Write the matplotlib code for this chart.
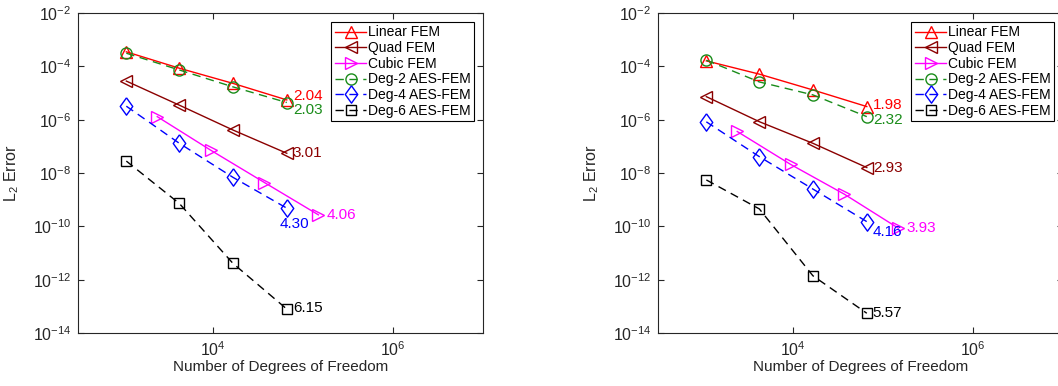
import matplotlib
matplotlib.use("Agg")
import matplotlib.pyplot as plt
import numpy as np

plt.rcParams['font.family'] = ['Liberation Sans', 'DejaVu Sans']
plt.rcParams['mathtext.fontset'] = 'custom'
plt.rcParams['mathtext.rm'] = 'Liberation Sans'

# Degrees of freedom for each refinement level
dofs_p = [1089, 4225, 16641, 66049]          # linear / quadratic / AES-FEM
dofs_cubic = [2401, 9409, 37249, 148225]     # cubic FEM

series_names = ["Linear FEM", "Quad FEM", "Cubic FEM",
                "Deg-2 AES-FEM", "Deg-4 AES-FEM", "Deg-6 AES-FEM"]

# Problem 1 errors
err1_linear = [3.5e-4, 8.5e-5, 2.3e-5, 5.5e-6]
err1_quad = [2.8e-5, 3.5e-6, 4.1e-7, 5.5e-8]
err1_cubic = [1.3e-6, 7.2e-8, 4.4e-9, 2.7e-10]
err1_aes2 = [3.1e-4, 7.3e-5, 1.7e-5, 4.4e-6]
err1_aes4 = [3.2e-6, 1.3e-7, 6.9e-9, 4.8e-10]
err1_aes6 = [2.8e-8, 7.2e-10, 4.1e-12, 7.9e-14]
rates1 = ["2.04", "3.01", "4.06", "2.03", "4.30", "6.15"]

# Problem 2 errors
err2_linear = [1.6e-4, 5.1e-5, 1.3e-5, 3.1e-6]
err2_quad = [7.3e-6, 8.4e-7, 1.3e-7, 1.6e-8]
err2_cubic = [3.6e-7, 2.1e-8, 1.6e-9, 8.5e-11]
err2_aes2 = [1.7e-4, 2.6e-5, 8.5e-6, 1.3e-6]
err2_aes4 = [8.3e-7, 4.1e-8, 2.5e-9, 1.5e-10]
err2_aes6 = [5.5e-9, 4.5e-10, 1.4e-12, 5.5e-14]
rates2 = ["1.98", "2.93", "3.93", "2.32", "4.16", "5.57"]

# diamond slightly taller than wide
diamond = [(0, 1), (0.72, 0), (0, -1), (-0.72, 0), (0, 1)]

colors = ['#ff0000', '#8b0000', '#ff00ff', '#1a8c1a', '#0000ff', '#000000']
markers = ['^', '<', '>', 'o', diamond, 's']
styles = ['-', '-', '-', '--', '--', '--']
msizes = [9, 9, 9, 8, 12.5, 6.5]

# label offsets (pixels) from the last point of each series
offs1 = [(6, 4), (6, 0), (8, 0), (6, -7), (-7, -16), (6, 1)]
offs2 = [(6, 2), (6, 0), (8, 0), (6, -3), (6, -10), (6, 0)]

fig = plt.figure(figsize=(10.58, 3.86), dpi=100)
W, H = 1058.0, 386.0
ax1 = fig.add_axes([78 / W, 1 - 333 / H, 405 / W, 320 / H])
ax2 = fig.add_axes([658 / W, 1 - 333 / H, 405 / W, 320 / H])

axis_col = '#262626'

def draw(ax, errs, rates, offs):
    xs = [dofs_p, dofs_p, dofs_cubic, dofs_p, dofs_p, dofs_p]
    for x, y, c, m, ls, ms, name, r, off in zip(xs, errs, colors, markers,
                                                 styles, msizes, series_names,
                                                 rates, offs):
        ax.loglog(x, y, linestyle=ls, color=c, marker=m, markersize=ms,
                  markerfacecolor='none', markeredgecolor=c, lw=1.0,
                  markeredgewidth=1.0, label=name,
                  dashes=(6, 4) if ls == '--' else (None, None))
        ax.annotate(r, (x[-1], y[-1]), xytext=off, textcoords='offset pixels',
                    color=c, fontsize=11, ha='left', va='center')
    ax.set_xlim(10 ** 2.5, 1e7)
    ax.set_ylim(1e-14, 1e-2)
    ax.set_xticks([1e4, 1e6])
    ax.set_yticks([10.0 ** k for k in range(-14, -1, 2)])
    ax.minorticks_off()
    ax.tick_params(which='both', direction='in', top=True, right=True,
                   length=4, width=0.8, colors=axis_col, labelsize=11.5,
                   labelcolor=axis_col, pad=5)
    for s in ax.spines.values():
        s.set_color(axis_col)
        s.set_linewidth(0.8)
    ax.set_xlabel("Number of Degrees of Freedom", fontsize=11,
                  color=axis_col, labelpad=1)
    ax.set_ylabel(r"$\mathregular{L_2}$ Error", fontsize=11.5,
                  color=axis_col, labelpad=8)
    leg = ax.legend(loc='upper right', bbox_to_anchor=(0.978, 0.972),
                    borderaxespad=0, fontsize=10, fancybox=False,
                    framealpha=1, edgecolor='#000000', handlelength=2.3,
                    handletextpad=0.1, labelspacing=0.12, borderpad=0.25)
    leg.get_frame().set_linewidth(0.8)

draw(ax1, [err1_linear, err1_quad, err1_cubic, err1_aes2, err1_aes4, err1_aes6],
     rates1, offs1)
draw(ax2, [err2_linear, err2_quad, err2_cubic, err2_aes2, err2_aes4, err2_aes6],
     rates2, offs2)

fig.savefig("out.png", dpi=100)
